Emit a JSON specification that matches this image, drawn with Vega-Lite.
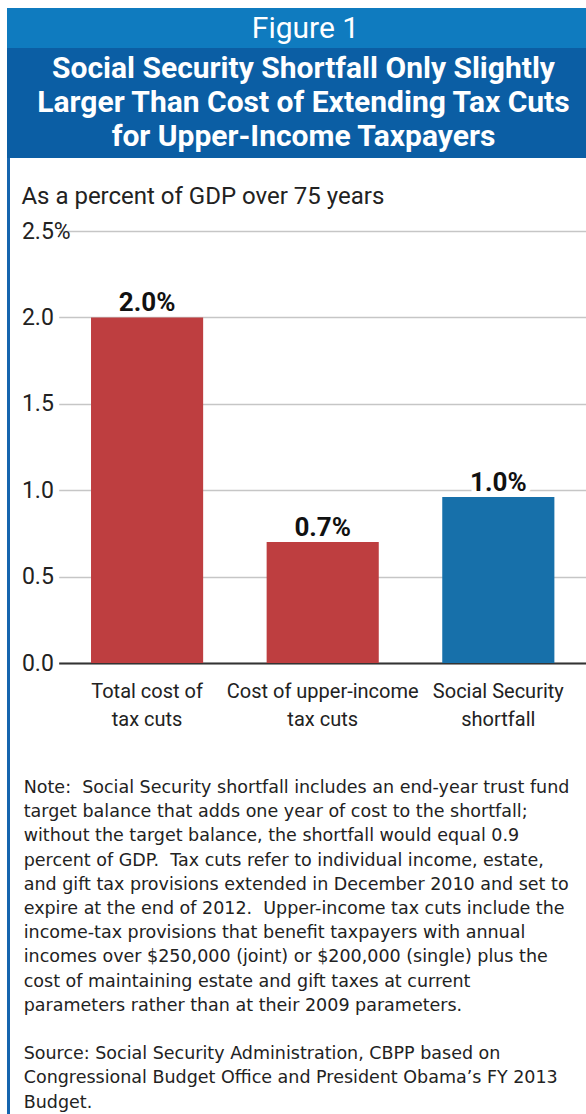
{
  "$schema": "https://vega.github.io/schema/vega-lite/v6.json",
  "background": "white",
  "padding": {"left": 7, "top": 8, "right": 0, "bottom": 0},
  "spacing": 0,
  "config": {"view": {"stroke": null}, "concat": {"spacing": 0}},
  "vconcat": [
    {
      "width": 579,
      "height": 40,
      "view": {"fill": "#0f7bbf"},
      "data": {"values": [{"text": "Figure 1"}]},
      "mark": {"type": "text", "font": "Roboto", "fontSize": 30, "color": "white", "dx": 9, "dy": 1, "baseline": "middle"},
      "encoding": {"text": {"field": "text"}}
    },
    {
      "width": 579,
      "height": 110,
      "view": {"fill": "#0b5ea4"},
      "data": {"values": [
        {"line": 1, "text": "Social Security Shortfall Only Slightly"},
        {"line": 2, "text": "Larger Than Cost of Extending Tax Cuts"},
        {"line": 3, "text": "for Upper-Income Taxpayers"}
      ]},
      "mark": {"type": "text", "font": "Roboto", "fontWeight": "bold", "fontSize": 30, "color": "white", "dx": 7, "baseline": "middle"},
      "encoding": {
        "y": {"field": "line", "type": "ordinal", "axis": null, "scale": {"type": "point", "padding": 0.62}},
        "text": {"field": "text"}
      }
    },
    {
      "spacing": 10.7,
      "hconcat": [
        {
          "width": 3,
          "height": 956,
          "view": {"fill": "#1565ae"},
          "data": {"values": [{"k": 1}]},
          "mark": {"type": "rect", "color": "#1565ae"},
          "encoding": {}
        },
        {
          "spacing": 0,
          "vconcat": [
            {
              "width": 528,
              "height": 62,
              "data": {"values": [{"text": "As a percent of GDP over 75 years"}]},
              "mark": {"type": "text", "font": "Roboto", "fontSize": 24, "align": "left", "baseline": "middle", "color": "#222", "dx": -37.3, "dy": 8},
              "encoding": {
                "x": {"datum": 0, "type": "quantitative", "scale": {"domain": [0, 1]}, "axis": null},
                "text": {"field": "text"}
              }
            },
            {
              "width": 528,
              "height": 432,
              "data": {"values": [
                {"category": "Total cost of tax cuts", "value": 2.0, "label": "2.0%", "group": "Tax cuts"},
                {"category": "Cost of upper-income tax cuts", "value": 0.7, "label": "0.7%", "group": "Tax cuts"},
                {"category": "Social Security shortfall", "value": 0.96, "label": "1.0%", "group": "Social Security"}
              ]},
              "encoding": {
                "x": {
                  "field": "category", "type": "nominal", "sort": null,
                  "scale": {"paddingInner": 0.3615, "paddingOuter": 0.184},
                  "axis": {
                    "title": null, "labelAngle": 0, "labelOverlap": false, "labelLimit": 0,
                    "labelExpr": "datum.label == 'Total cost of tax cuts' ? ['Total cost of', 'tax cuts'] : datum.label == 'Cost of upper-income tax cuts' ? ['Cost of upper-income', 'tax cuts'] : ['Social Security', 'shortfall']",
                    "labelFont": "Roboto", "labelFontSize": 20, "labelColor": "#222",
                    "labelPadding": 18, "labelBaseline": "top", "labelLineHeight": 28,
                    "ticks": false, "tickSize": 0, "domain": true, "domainColor": "#333", "domainWidth": 2, "grid": false
                  }
                },
                "y": {
                  "field": "value", "type": "quantitative",
                  "scale": {"domain": [0, 2.5], "nice": false},
                  "axis": {
                    "title": null, "values": [0, 0.5, 1, 1.5, 2, 2.5],
                    "labelExpr": "datum.value == 2.5 ? '2.5%' : format(datum.value, '.1f')",
                    "labelAlign": "left", "labelBaseline": "middle", "labelPadding": 37.3,
                    "ticks": false, "tickSize": 0, "domain": false,
                    "labelFont": "Roboto", "labelFontSize": 23, "labelColor": "#222",
                    "grid": true, "gridColor": "#c6c6c6", "gridWidth": 1.5
                  }
                }
              },
              "layer": [
                {
                  "mark": {"type": "bar"},
                  "encoding": {
                    "color": {"field": "group", "type": "nominal", "scale": {"domain": ["Tax cuts", "Social Security"], "range": ["#be3e40", "#1770aa"]}, "legend": null}
                  }
                },
                {
                  "mark": {"type": "text", "font": "Roboto", "fontWeight": "bold", "fontSize": 26, "baseline": "alphabetic", "dy": -6, "fill": "white", "stroke": "white", "strokeWidth": 10, "strokeJoin": "round"},
                  "encoding": {"text": {"field": "label"}}
                },
                {
                  "mark": {"type": "text", "font": "Roboto", "fontWeight": "bold", "fontSize": 26, "baseline": "alphabetic", "dy": -6, "color": "#111"},
                  "encoding": {"text": {"field": "label"}}
                }
              ]
            },
            {
              "width": 528,
              "height": 384,
              "data": {"values": [
                {"line": 0, "text": "Note:\u00a0 Social Security shortfall includes an end-year trust fund"},
                {"line": 1, "text": "target balance that adds one year of cost to the shortfall;"},
                {"line": 2, "text": "without the target balance, the shortfall would equal 0.9"},
                {"line": 3, "text": "percent of GDP.\u00a0 Tax cuts refer to individual income, estate,"},
                {"line": 4, "text": "and gift tax provisions extended in December 2010 and set to"},
                {"line": 5, "text": "expire at the end of 2012.\u00a0 Upper-income tax cuts include the"},
                {"line": 6, "text": "income-tax provisions that benefit taxpayers with annual"},
                {"line": 7, "text": "incomes over $250,000 (joint) or $200,000 (single) plus the"},
                {"line": 8, "text": "cost of maintaining estate and gift taxes at current"},
                {"line": 9, "text": "parameters rather than at their 2009 parameters."},
                {"line": 11, "text": "Source: Social Security Administration, CBPP based on"},
                {"line": 12, "text": "Congressional Budget Office and President Obama\u2019s FY 2013"},
                {"line": 13, "text": "Budget."}
              ]},
              "mark": {"type": "text", "font": "DejaVu Sans", "fontSize": 17.5, "align": "left", "baseline": "middle", "color": "#222", "dx": -35},
              "encoding": {
                "x": {"datum": 0, "type": "quantitative", "scale": {"domain": [0, 1]}, "axis": null},
                "y": {"field": "line", "type": "quantitative", "scale": {"domain": [-2.44, 13.43], "reverse": true}, "axis": null},
                "text": {"field": "text"}
              }
            }
          ]
        }
      ]
    }
  ]
}
